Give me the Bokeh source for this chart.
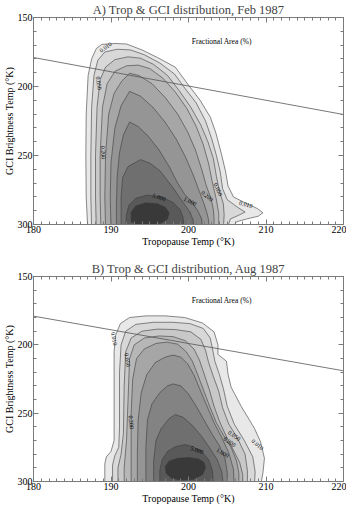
from bokeh.plotting import figure
from bokeh.models import Range1d, LinearAxis, ColumnDataSource, SingleIntervalTicker
from bokeh.layouts import column
from bokeh.embed import file_html
from bokeh.resources import INLINE
from bokeh.core.properties import value

# contour levels (fractional area, %) and their fill shades
levels = [0.01, 0.02, 0.05, 0.1, 0.2, 0.5, 1.0, 2.0, 5.0, 10.0]
shades = ["#e8e8e8", "#d8d8d8", "#c8c8c8", "#b7b7b7", "#a6a6a6",
          "#959595", "#838383", "#6f6f6f", "#595959", "#393939"]

# reference line (both panels)
ref_x = [180, 220]
feb_ref_y = [179, 220.3]
aug_ref_y = [179, 219]

# ---- Feb 1987 contour outlines (x: tropopause T, y: GCI brightness T) ----
feb_001_x = [187.0, 186.8, 186.75, 186.8, 187.05, 187.5, 188.1, 188.8, 190.5, 192.0, 194.0, 196.0, 198.3, 200.0, 201.5, 202.8, 203.5, 204.3, 204.8, 205.1, 205.8, 207.2, 208.9, 209.6, 209.0, 207.5, 206.2, 205.6]
feb_001_y = [303, 280, 250, 220, 192, 180, 172.5, 169.5, 168.8, 169.2, 173.5, 179, 186, 199, 210, 222, 233, 250, 262, 272, 280, 284, 288.5, 291.5, 294, 296, 298, 303]
feb_002_x = [187.5, 187.4, 187.4, 187.5, 187.8, 188.3, 189.2, 190.8, 192.5, 194.3, 196.3, 198.2, 199.5, 201.0, 202.2, 203.0, 203.6, 204.1, 204.4, 205.0, 206.2, 207.3, 206.4, 205.4, 205.0]
feb_002_y = [303, 280, 250, 215, 192, 181, 175, 173, 173.5, 177, 183, 191, 201, 212, 225, 238, 250, 262, 274, 282, 287, 291, 293.5, 296, 303]
feb_005_x = [188.1, 188.0, 188.0, 188.2, 188.6, 189.3, 190.5, 192.2, 193.8, 195.5, 197.3, 198.8, 200.3, 201.6, 202.5, 203.2, 203.6, 204.0, 204.5, 204.6, 204.5]
feb_005_y = [303, 280, 250, 215, 195, 186, 180.5, 178.5, 179.5, 184, 192, 203, 215, 228, 240, 252, 265, 276, 285, 293, 303]
feb_01_x = [188.7, 188.6, 188.6, 188.9, 189.5, 190.5, 192.0, 193.5, 195.0, 196.7, 198.3, 199.8, 201.0, 201.9, 202.6, 203.1, 203.6, 203.9, 203.9]
feb_01_y = [303, 280, 250, 215, 198, 189, 185, 184.5, 187, 194, 204, 216, 229, 242, 256, 270, 282, 292, 303]
feb_02_x = [189.3, 189.2, 189.3, 189.7, 190.4, 191.4, 192.4, 193.6, 195.3, 197.0, 198.6, 199.9, 200.9, 201.7, 202.3, 202.9, 203.2, 203.3, 203.3]
feb_02_y = [303, 280, 250, 220, 205, 196, 190.4, 192, 198, 208, 220, 233, 246, 260, 272, 281, 289, 296, 303]
feb_05_x = [190.0, 189.9, 190.0, 190.5, 191.3, 192.4, 193.8, 195.4, 197.0, 198.4, 199.6, 200.6, 201.4, 202.0, 202.4, 202.6, 202.6]
feb_05_y = [303, 280, 255, 230, 214, 203.5, 207, 215, 226, 238, 251, 264, 276, 285, 292, 297, 303]
feb_1_x = [190.7, 190.7, 190.8, 191.1, 191.6, 192.4, 193.5, 194.8, 196.2, 197.5, 198.6, 199.5, 200.4, 201.2, 201.7, 201.8]
feb_1_y = [303, 285, 265, 248, 235, 225.7, 229, 236, 246, 258, 270, 278, 283.5, 290, 296, 303]
feb_2_x = [191.3, 191.3, 191.5, 192.2, 193.8, 195.0, 196.3, 197.9, 199.3, 200.2, 200.6, 200.7]
feb_2_y = [303, 280, 266, 258, 253, 255.5, 261, 272.5, 284, 291, 297, 303]
feb_5_x = [191.9, 192.0, 192.3, 193.2, 194.7, 196.5, 198.0, 198.9, 199.3, 199.4]
feb_5_y = [303, 293, 286, 281, 278.7, 280, 284, 289, 295, 303]
feb_10_x = [192.6, 192.6, 193.2, 194.5, 196.0, 197.0, 197.5, 197.3, 196.5, 194.8, 193.3]
feb_10_y = [298, 291, 286.5, 284.3, 285, 287.5, 291.5, 296, 299, 300.5, 300]

feb_lab_text = ["0.010", "0.050", "0.200", "5.000", "1.000", "0.200", "0.050", "0.010"]
feb_lab_x = [189.3, 188.4, 189.0, 196.2, 200.2, 202.4, 203.8, 207.4]
feb_lab_y = [171.5, 197.5, 247.7, 280.3, 283.4, 279.4, 274.7, 285.5]
feb_lab_ang = [35, -82, -88, -20, -25, -40, -65, -15]

# ---- Aug 1987 contour outlines ----
aug_001_x = [189.2, 189.2, 189.4, 190.0, 190.4, 190.4, 190.4, 190.6, 191.2, 192.4, 194.5, 197.0, 199.5, 201.8, 203.3, 203.8, 203.8, 204.9, 205.1, 205.5, 206.8, 208.5, 209.3, 209.8, 209.6, 209.3]
aug_001_y = [303, 287, 282, 278, 270, 240, 205, 193, 184.5, 180, 178.8, 178.8, 180, 184, 190.5, 200, 207, 212, 221.5, 231, 245, 261, 271, 283, 294, 303]
aug_002_x = [190.2, 190.2, 190.5, 191.0, 191.1, 191.1, 191.3, 191.9, 193.2, 195.5, 198.0, 200.2, 201.9, 202.8, 203.1, 203.4, 204.0, 204.5, 205.0, 205.9, 207.2, 208.3, 208.6, 208.5]
aug_002_y = [303, 288, 281, 275, 260, 220, 200, 190, 185, 183.5, 183.5, 184.5, 188, 195, 203, 212, 222, 232, 245, 258, 270, 282, 293, 303]
aug_005_x = [190.9, 190.9, 191.3, 191.6, 191.7, 191.9, 192.6, 194.0, 196.0, 198.3, 200.3, 201.6, 202.2, 202.6, 203.2, 203.9, 204.4, 205.2, 206.3, 207.3, 207.6, 207.6]
aug_005_y = [303, 290, 280, 265, 230, 205, 195, 190, 188.5, 188.8, 190.5, 196, 204, 213, 223, 234, 246, 258, 268, 280, 292, 303]
aug_01_x = [191.7, 191.7, 192.0, 192.2, 192.4, 193.0, 194.3, 196.2, 198.0, 199.6, 200.7, 201.4, 202.0, 202.7, 203.3, 204.0, 204.8, 205.7, 206.6, 207.0, 207.0]
aug_01_y = [303, 290, 270, 240, 210, 200, 195, 193.5, 194, 197, 203, 211, 221, 233, 245, 256, 266, 276, 286, 295, 303]
aug_02_x = [192.6, 192.6, 192.6, 192.8, 193.3, 194.3, 195.8, 197.2, 198.6, 199.7, 200.5, 201.2, 202.0, 202.8, 203.6, 204.5, 205.5, 206.2, 206.5, 206.5]
aug_02_y = [303, 280, 250, 225, 210, 203, 199, 198, 199.5, 205, 212, 222, 234, 246, 257, 266, 275, 285, 294, 303]
aug_05_x = [193.4, 193.4, 193.5, 193.9, 194.6, 195.7, 197.0, 198.0, 199.0, 199.9, 200.7, 201.5, 202.4, 203.3, 204.3, 205.2, 205.8, 205.9]
aug_05_y = [303, 280, 255, 235, 222, 213, 209, 207.5, 209, 214, 222, 233, 245, 257, 268, 279, 291, 303]
aug_1_x = [194.5, 194.5, 194.7, 195.3, 196.3, 197.3, 198.0, 199.0, 200.0, 201.0, 202.0, 203.0, 204.0, 204.7, 205.0, 205.0]
aug_1_y = [303, 275, 255, 243, 235, 230, 228.6, 230, 236, 245, 255, 265, 274, 283, 293, 303]
aug_2_x = [195.5, 195.5, 195.8, 196.5, 197.5, 198.3, 199.3, 200.5, 201.7, 202.8, 203.7, 204.3, 204.5]
aug_2_y = [303, 285, 270, 261, 254, 251, 253, 259, 267, 276, 284, 293, 303]
aug_5_x = [196.3, 196.3, 196.6, 197.3, 198.3, 199.5, 200.6, 201.7, 202.6, 203.1, 203.2]
aug_5_y = [303, 292, 284, 278, 274.5, 273, 274.5, 278, 284, 292, 303]
aug_10_x = [197.1, 197.0, 197.5, 198.6, 200.0, 201.3, 202.0, 202.2, 201.8, 200.6, 199.0, 197.8]
aug_10_y = [294, 289, 285, 283, 282.5, 283.5, 286, 290, 295, 298.5, 299, 297.5]

aug_lab_text = ["0.010", "0.050", "0.200", "5.000", "1.000", "0.200", "0.050", "0.010"]
aug_lab_x = [190.4, 192.1, 192.6, 201.1, 204.4, 205.3, 205.9, 208.9]
aug_lab_y = [195.5, 211.0, 256.6, 277.0, 279.0, 271.0, 266.5, 273.0]
aug_lab_ang = [-80, -80, -85, -20, -30, -35, -35, -40]

note_text = "Fractional Area (%)"
note_x = 204.3
note_y = 167.5

SERIF = "Liberation Serif"
AXC = "#7a7a7a"


def style_axis(ax, labels=True):
    ax.axis_line_color = AXC
    ax.major_tick_line_color = AXC
    ax.minor_tick_line_color = AXC
    ax.major_tick_in = 5
    ax.major_tick_out = 0
    ax.minor_tick_in = 3
    ax.minor_tick_out = 0
    if labels:
        ax.major_label_text_font = SERIF
        ax.major_label_text_font_size = "10px"
        ax.major_label_text_color = "black"
        ax.major_label_standoff = 1
        ax.axis_label_text_font = SERIF
        ax.axis_label_text_font_size = "10px"
        ax.axis_label_text_font_style = "normal"
        ax.axis_label_text_color = "black"
        ax.axis_label_standoff = 0
    else:
        ax.major_label_text_font_size = "0px"
        ax.major_label_text_color = None
        ax.major_label_standoff = 0


def panel(title, xs, ys, lab_text, lab_x, lab_y, lab_ang, ref_y, height, top, bottom):
    p = figure(width=346, height=height, x_range=Range1d(180, 220), y_range=Range1d(300, 150),
               output_backend="svg", toolbar_location=None,
               min_border_left=25, min_border_right=3, min_border_top=top, min_border_bottom=bottom)
    p.title.text = title
    p.title.text_font = SERIF
    p.title.text_font_size = "12.5px"
    p.title.text_font_style = "normal"
    p.title.align = "center"
    p.title.standoff = 1
    p.grid.visible = False
    p.outline_line_color = AXC
    p.background_fill_color = "white"
    p.border_fill_color = "white"

    p.xaxis[0].ticker = SingleIntervalTicker(interval=10, num_minor_ticks=10)
    p.yaxis[0].ticker = SingleIntervalTicker(interval=50, num_minor_ticks=5)
    p.xaxis[0].axis_label = "Tropopause Temp (\u00b0K)"
    p.yaxis[0].axis_label = "GCI Brightness Temp (\u00b0K)"
    style_axis(p.xaxis[0])
    style_axis(p.yaxis[0])
    top_ax = LinearAxis(ticker=SingleIntervalTicker(interval=10, num_minor_ticks=10))
    right_ax = LinearAxis(ticker=SingleIntervalTicker(interval=50, num_minor_ticks=5))
    style_axis(top_ax, labels=False)
    style_axis(right_ax, labels=False)
    p.add_layout(top_ax, "above")
    p.add_layout(right_ax, "right")

    src = ColumnDataSource(dict(xs=xs, ys=ys, fill=shades, level=levels))
    p.patches("xs", "ys", source=src, fill_color="fill", line_color="#3c3c3c", line_width=0.6)
    p.line(ref_x, ref_y, line_color="#555555", line_width=0.8)
    p.text(x=lab_x, y=lab_y, text=lab_text, angle=lab_ang, angle_units="deg",
           text_font=value(SERIF), text_font_size="6px", text_align="center",
           text_baseline="middle", text_color="black")
    p.text(x=[note_x], y=[note_y], text=[note_text], text_font=value(SERIF),
           text_font_size="7.5px", text_align="center", text_baseline="middle", text_color="black")
    return p


feb_xs = [feb_001_x, feb_002_x, feb_005_x, feb_01_x, feb_02_x, feb_05_x, feb_1_x, feb_2_x, feb_5_x, feb_10_x]
feb_ys = [feb_001_y, feb_002_y, feb_005_y, feb_01_y, feb_02_y, feb_05_y, feb_1_y, feb_2_y, feb_5_y, feb_10_y]
aug_xs = [aug_001_x, aug_002_x, aug_005_x, aug_01_x, aug_02_x, aug_05_x, aug_1_x, aug_2_x, aug_5_x, aug_10_x]
aug_ys = [aug_001_y, aug_002_y, aug_005_y, aug_01_y, aug_02_y, aug_05_y, aug_1_y, aug_2_y, aug_5_y, aug_10_y]

pa = panel("A) Trop & GCI distribution, Feb 1987", feb_xs, feb_ys,
           feb_lab_text, feb_lab_x, feb_lab_y, feb_lab_ang, feb_ref_y, 250, 0, 26)
pb = panel("B) Trop & GCI distribution, Aug 1987", aug_xs, aug_ys,
           aug_lab_text, aug_lab_x, aug_lab_y, aug_lab_ang, aug_ref_y, 257, 26, 26)

layout = column(pa, pb, spacing=0)
open("out.html", "w").write(file_html(layout, INLINE))
